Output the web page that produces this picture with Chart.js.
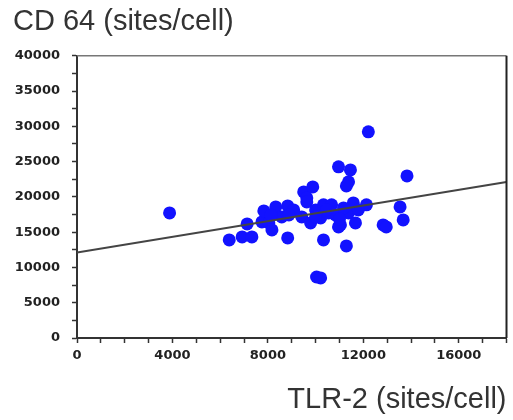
<!DOCTYPE html>
<html>
<head>
<meta charset="utf-8">
<script src="https://cdn.jsdelivr.net/npm/chart.js@4"></script>
<style>
  body { margin: 0; background: #fff; }
</style>
</head>
<body>
<canvas id="chart" width="513" height="420"></canvas>
<script>
// TLR-2 vs CD 64, sites per cell
const tlr2 = [3880, 6380, 6920, 7330, 7130, 7750, 7830, 8040, 8170, 8330,
              8830, 8580, 8130, 8830, 9500, 9880, 9630, 9630, 9420, 9790,
              10000, 10210, 10000, 10540, 10830, 11040, 10330, 11290, 10040, 10210,
              10960, 11460, 11380, 11290, 11580, 11380, 11670, 11170, 10960, 12130,
              12210, 12830, 12960, 13540, 13670, 13830, 9080, 8880, 10330, 10670,
              11790, 10460, 11000];
const cd64 = [17730, 13900, 14330, 14330, 16170, 16450, 18010, 16310, 15320, 18580,
              18720, 17160, 17450, 14180, 20710, 21420, 19860, 19290, 17160, 16310,
              18160, 17020, 17160, 17730, 17450, 16030, 13900, 13050, 8650, 8510,
              24260, 23830, 22130, 21560, 19150, 17730, 16310, 18440, 15740, 18870,
              29220, 16030, 15740, 18580, 16740, 22980, 18160, 17450, 18870, 18870,
              18160, 18160, 16870];
// fitted line end points
const fitX = [0, 18000];
const fitY = [12100, 22100];

const xMax = 18000;
const yMax = 40000;

const points = tlr2.map((v, i) => ({ x: v, y: cd64[i] }));
const fit = fitX.map((v, i) => ({ x: v, y: fitY[i] }));

const frame = {
    id: 'frame',
    afterDatasetsDraw(chart) {
        const a = chart.chartArea;
        const c = chart.ctx;
        c.save();
        c.strokeStyle = '#777';
        c.lineWidth = 1.5;
        c.beginPath();
        c.moveTo(a.left, a.top);
        c.lineTo(a.right, a.top);
        c.stroke();
        c.strokeStyle = '#222';
        c.lineWidth = 2;
        c.beginPath();
        c.moveTo(a.right, a.top);
        c.lineTo(a.right, a.bottom);
        c.stroke();
        c.restore();
    }
};

const tickFont = { family: 'DejaVu Sans', size: 13, weight: 'bold' };
const titleFont = { family: 'Liberation Sans, Arial', size: 29, weight: 'normal' };

new Chart(document.getElementById('chart'), {
    type: 'scatter',
    data: {
        datasets: [
            {
                type: 'line',
                data: fit,
                borderColor: '#444',
                borderWidth: 2,
                pointRadius: 0,
                fill: false,
                order: 0
            },
            {
                data: points,
                backgroundColor: '#1212ff',
                borderWidth: 0,
                pointRadius: 6.5,
                pointHoverRadius: 6.5,
                order: 1
            }
        ]
    },
    options: {
        responsive: false,
        animation: false,
        devicePixelRatio: 1,
        layout: { padding: { left: 13, right: 2, top: 0, bottom: 0 } },
        plugins: {
            legend: { display: false },
            tooltip: { enabled: false },
            title: {
                display: true,
                text: 'CD 64 (sites/cell)',
                align: 'start',
                color: '#333',
                font: titleFont,
                padding: { top: 5, bottom: 16 }
            }
        },
        scales: {
            x: {
                type: 'linear',
                min: 0,
                max: xMax,
                border: { color: '#333', width: 2 },
                grid: { drawOnChartArea: false, tickLength: 5, tickColor: '#333', tickWidth: 1.5 },
                ticks: {
                    stepSize: 1000,
                    autoSkip: false,
                    maxRotation: 0,
                    color: '#222',
                    font: tickFont,
                    padding: 5,
                    callback: v => (v % 4000 === 0 && v < xMax) ? String(v) : ''
                },
                title: {
                    display: true,
                    text: 'TLR-2 (sites/cell)',
                    align: 'end',
                    color: '#333',
                    font: titleFont,
                    padding: { top: 10, bottom: 3 }
                },
                afterFit: s => { s.height = 82; }
            },
            y: {
                type: 'linear',
                min: 0,
                max: yMax,
                border: { color: '#333', width: 2 },
                grid: { drawOnChartArea: false, tickLength: 5, tickColor: '#333', tickWidth: 1.5 },
                ticks: {
                    stepSize: 2500,
                    autoSkip: false,
                    color: '#222',
                    font: tickFont,
                    padding: 12,
                    callback: v => (v % 5000 === 0) ? String(v) : ''
                },
                afterFit: s => { s.width = 64; }
            }
        }
    },
    plugins: [frame]
});
</script>
</body>
</html>
